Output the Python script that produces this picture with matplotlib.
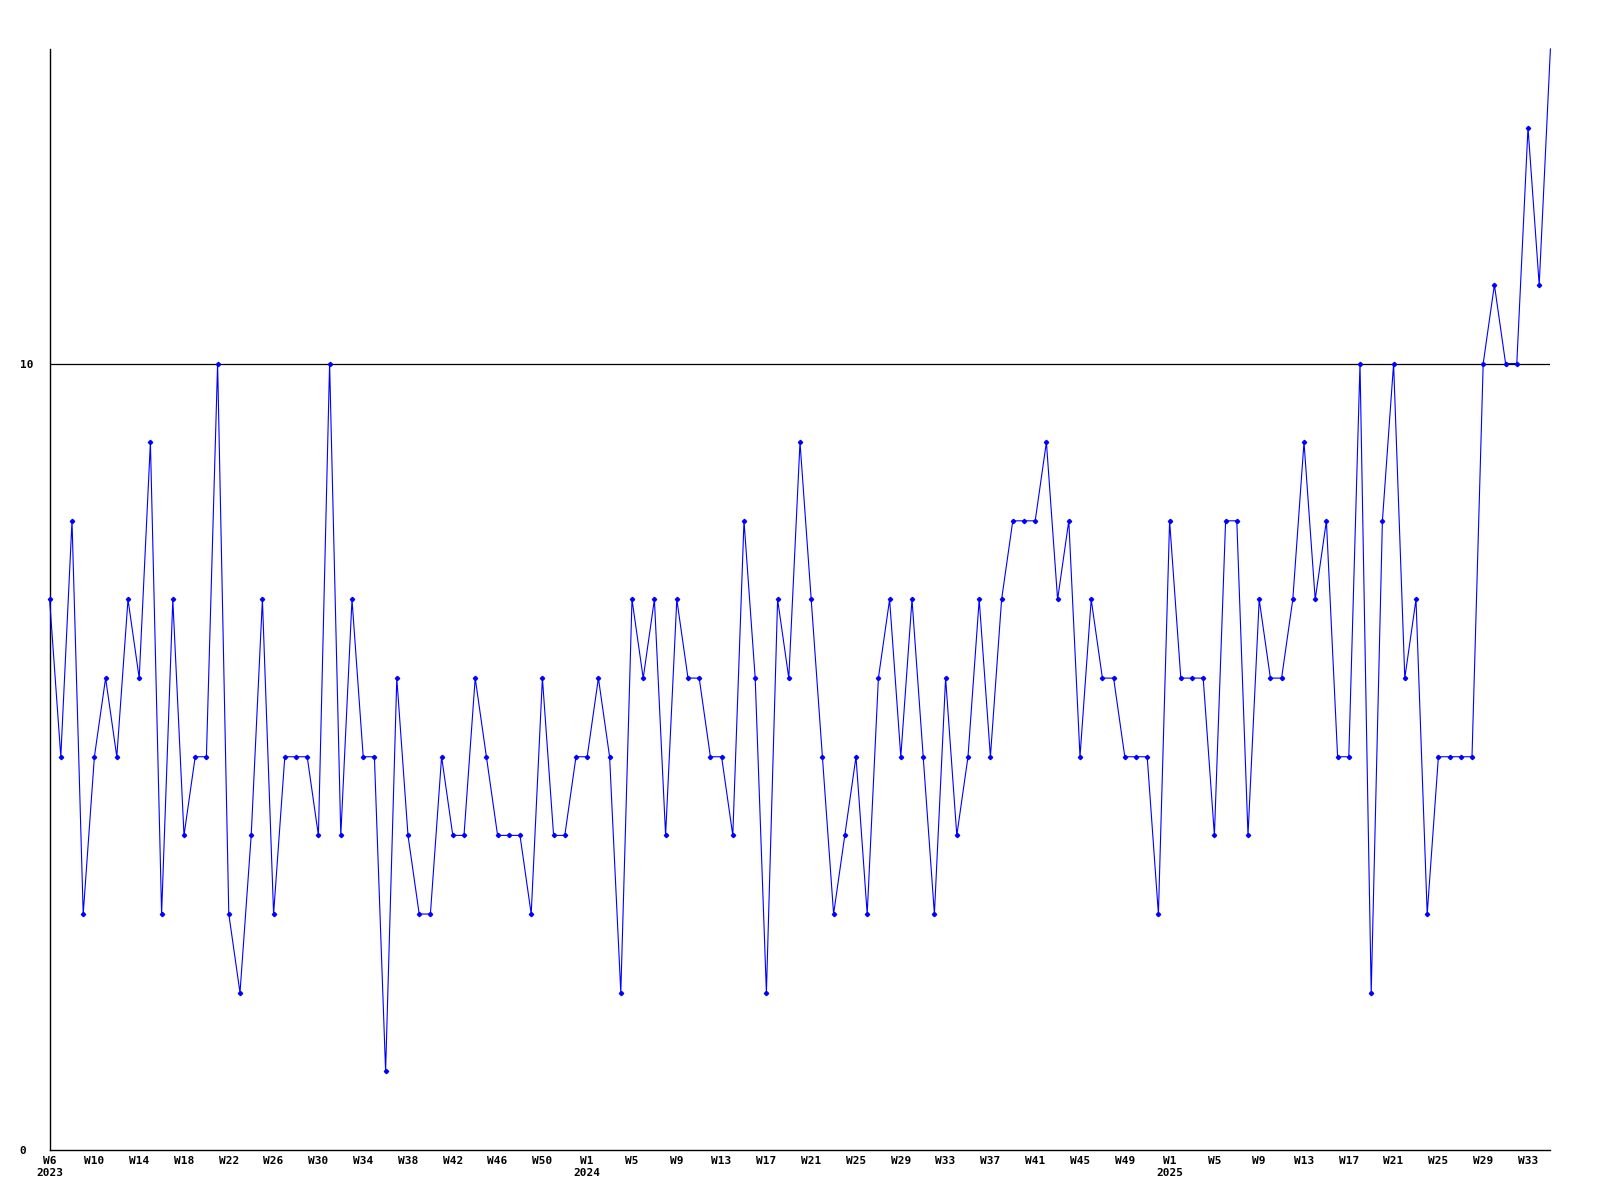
import matplotlib
matplotlib.use('Agg')
import matplotlib.pyplot as plt

# weekly counts, 2023 W6 .. 2025 W35
counts = [7, 5, 8, 3, 5, 6, 5, 7, 6, 9, 3, 7, 4, 5, 5, 10, 3,
          2, 4, 7, 3, 5, 5, 5, 4, 10, 4, 7, 5, 5, 1, 6, 4, 3,
          3, 5, 4, 4, 6, 5, 4, 4, 4, 3, 6, 4, 4, 5, 5, 6, 5,
          2, 7, 6, 7, 4, 7, 6, 6, 5, 5, 4, 8, 6, 2, 7, 6, 9,
          7, 5, 3, 4, 5, 3, 6, 7, 5, 7, 5, 3, 6, 4, 5, 7, 5,
          7, 8, 8, 8, 9, 7, 8, 5, 7, 6, 6, 5, 5, 5, 3, 8, 6,
          6, 6, 4, 8, 8, 4, 7, 6, 6, 7, 9, 7, 8, 5, 5, 10, 2,
          8, 10, 6, 7, 3, 5, 5, 5, 5, 10, 11, 10, 10, 13, 11, 14]

# x labels (every 4th week)
weeks_2023 = [6, 10, 14, 18, 22, 26, 30, 34, 38, 42, 46, 50]
weeks_2024 = [1, 5, 9, 13, 17, 21, 25, 29, 33, 37, 41, 45, 49]
weeks_2025 = [1, 5, 9, 13, 17, 21, 25, 29, 33]

tick_labels = []
for year, weeks in [('2023', weeks_2023), ('2024', weeks_2024), ('2025', weeks_2025)]:
    for j, w in enumerate(weeks):
        if j == 0:
            tick_labels.append('W%d\n%s' % (w, year))
        else:
            tick_labels.append('W%d' % w)

y_ticks = [0, 10]

x = list(range(len(counts)))

fig = plt.figure(figsize=(16, 12), dpi=100)
ax = fig.add_axes([0.031, 0.0417, 0.938, 0.9175])

ax.axhline(10, color='black', lw=0.9, zorder=1)
# line first, then the small markers (last point sits on the top edge)
ax.plot(x, counts, color='#0000ff', lw=0.8, clip_on=False, zorder=3)
ax.plot(x[:-1], counts[:-1], ls='none', marker='D', ms=2.2, mfc='#0000ff',
        mec='#0000ff', clip_on=False, zorder=4)

ax.set_xlim(0, len(counts) - 1)
ax.set_ylim(0, 14)

ax.set_xticks(x[::4])
ax.set_xticklabels(tick_labels, fontfamily='DejaVu Sans Mono', fontweight='bold',
                   fontsize=8, linespacing=1.35, va='top')
ax.set_yticks(y_ticks)
ax.set_yticklabels([str(v) for v in y_ticks], fontfamily='DejaVu Sans Mono',
                   fontweight='bold', fontsize=8, ha='left')

ax.tick_params(axis='x', length=0, pad=4)
ax.tick_params(axis='y', length=0, pad=21.5)

ax.spines['top'].set_visible(False)
ax.spines['right'].set_visible(False)
ax.spines['left'].set_linewidth(1)
ax.spines['bottom'].set_linewidth(1)

fig.savefig('out.png', dpi=100, facecolor='white')
